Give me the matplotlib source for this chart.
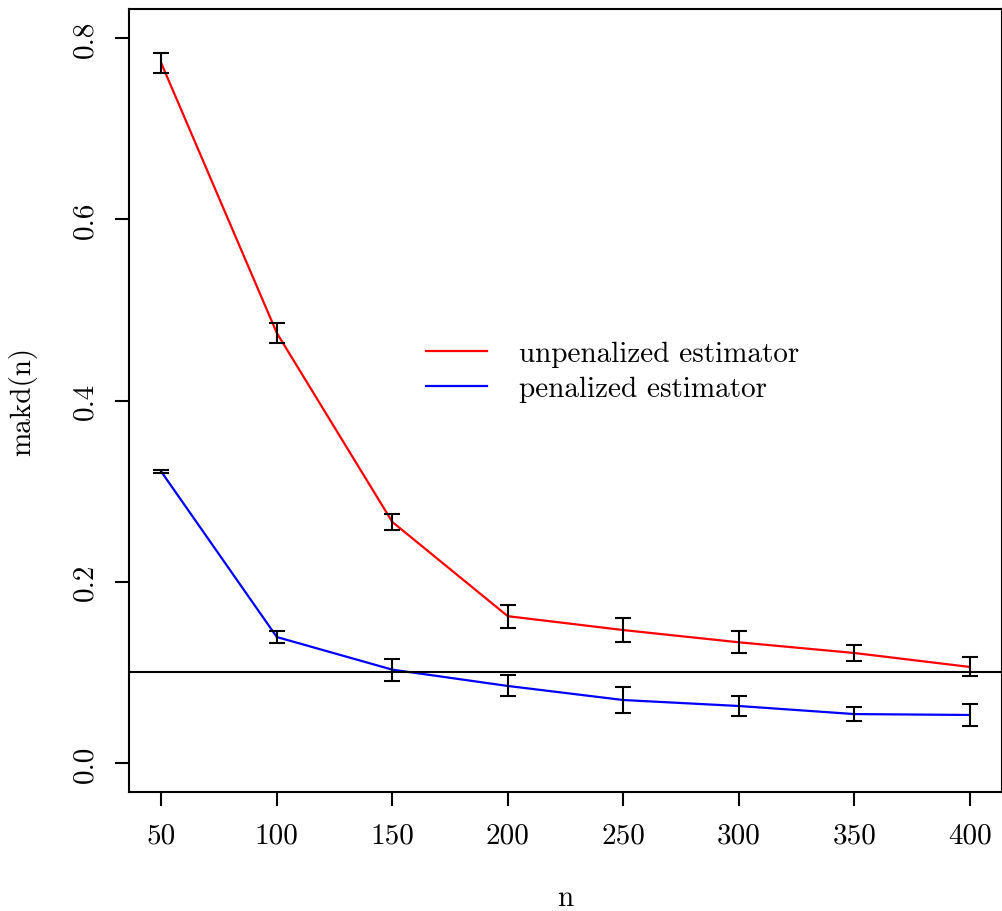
import matplotlib
matplotlib.use("Agg")
import matplotlib.pyplot as plt

plt.rcParams['font.family'] = ['cmr10', 'DejaVu Serif']
plt.rcParams['axes.formatter.use_mathtext'] = True

n = [50, 100, 150, 200, 250, 300, 350, 400]
unpen = [0.772, 0.4745, 0.266, 0.162, 0.1467, 0.1332, 0.1214, 0.106]
unpen_err = [0.011, 0.0105, 0.009, 0.0125, 0.013, 0.0123, 0.0087, 0.0105]
pen = [0.3214, 0.139, 0.103, 0.085, 0.0695, 0.0629, 0.054, 0.053]
pen_err = [0.0015, 0.0066, 0.0123, 0.0116, 0.014, 0.0105, 0.0079, 0.0123]
ref_level = 0.1
xticks = [50, 100, 150, 200, 250, 300, 350, 400]
yticks = [0.0, 0.2, 0.4, 0.6, 0.8]
ytick_labels = ["0.0", "0.2", "0.4", "0.6", "0.8"]

fig = plt.figure(figsize=(10.03, 9.12), dpi=100)
ax = fig.add_axes([129/1003, 119/912, 873/1003, 783/912])

fs = 21
ax.plot(n, unpen, color='red', lw=1.6, label='unpenalized estimator')
ax.plot(n, pen, color='blue', lw=1.6, label='penalized estimator')
ax.errorbar(n, unpen, yerr=unpen_err, fmt='none', ecolor='black', elinewidth=1.5, capsize=6, capthick=1.5)
ax.errorbar(n, pen, yerr=pen_err, fmt='none', ecolor='black', elinewidth=1.5, capsize=6, capthick=1.5)
ax.axhline(ref_level, color='black', lw=1.5)

ax.set_xlim(36, 414)
ax.set_ylim(-0.032, 0.832)
ax.set_xticks(xticks)
ax.set_xticklabels([str(v) for v in xticks], fontsize=fs)
ax.set_yticks(yticks)
ax.set_yticklabels(ytick_labels, fontsize=fs, rotation=90, va='center')
ax.tick_params(axis='both', length=10, width=1.5, pad=12)
for s in ax.spines.values():
    s.set_linewidth(1.5)

ax.set_xlabel('n', fontsize=fs, labelpad=26)
ax.set_ylabel('makd(n)', fontsize=fs, labelpad=25)

leg = ax.legend(loc='center left', bbox_to_anchor=(0.31, 0.537), frameon=False,
                fontsize=fs, handlelength=2.1, handletextpad=1.1, labelspacing=0.3)

fig.savefig('out.png', dpi=100)
